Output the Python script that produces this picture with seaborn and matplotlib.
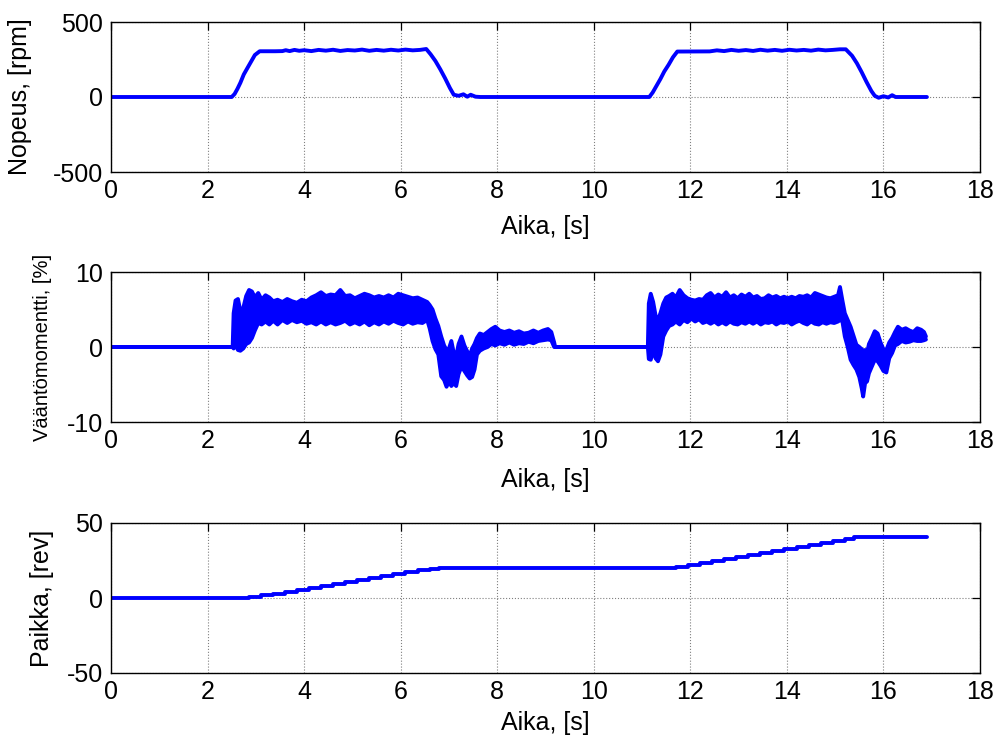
import numpy as np
import pandas as pd
import matplotlib
matplotlib.use("Agg")
import matplotlib.pyplot as plt
import seaborn as sns

# ---------------- data ----------------
speed_t = [0.0, 2.50, 2.56, 2.62, 2.68, 2.75, 2.82, 2.90, 2.98, 3.08,
           3.40, 3.55, 3.62, 3.70, 3.80, 3.90, 4.00, 4.15, 4.30, 4.45, 4.60,
           4.75, 4.90, 5.05, 5.20, 5.35, 5.50, 5.65, 5.80, 5.95, 6.10, 6.25,
           6.40, 6.53,
           6.62, 6.72, 6.82, 6.92, 7.02, 7.10, 7.20, 7.30, 7.38, 7.45, 7.55, 7.65,
           11.15, 11.22, 11.30, 11.38, 11.46, 11.55, 11.64, 11.73,
           12.40, 12.55, 12.70, 12.85, 13.00, 13.15, 13.30, 13.45, 13.60, 13.75,
           13.90, 14.05, 14.20, 14.35, 14.50, 14.65, 14.80, 14.95, 15.10, 15.22,
           15.35, 15.45, 15.55, 15.65, 15.75, 15.82, 15.90, 16.00, 16.10, 16.18,
           16.25, 16.90]
speed_v = [0, 0, 20, 55, 95, 150, 190, 235, 280, 305,
           305, 306, 312, 306, 314, 308, 312, 306, 314, 309, 315,
           307, 313, 310, 316, 308, 314, 309, 315, 310, 316, 311,
           314, 320,
           285, 240, 185, 125, 60, 15, 8, 18, 2, 15, 2, 0,
           0, 30, 75, 120, 170, 215, 265, 303,
           304, 311, 306, 314, 308, 313, 307, 315, 309, 314,
           308, 315, 310, 314, 309, 316, 311, 314, 318, 318,
           275, 225, 165, 100, 40, 8, -5, 5, -3, 12,
           0, 0]

torque_t = [0.00, 2.52, 2.54, 2.58, 2.63, 2.68, 2.74, 2.80, 2.86, 2.92, 2.98,
            3.05, 3.12, 3.20, 3.28, 3.36, 3.45, 3.55, 3.65, 3.75, 3.85, 3.95,
            4.05, 4.15, 4.25, 4.35, 4.45, 4.55, 4.65, 4.75, 4.85, 4.95, 5.05,
            5.15, 5.25, 5.35, 5.45, 5.55, 5.65, 5.75, 5.85, 5.95, 6.05, 6.15,
            6.25, 6.35, 6.45, 6.55, 6.60, 6.66, 6.72, 6.78, 6.84, 6.90, 6.95,
            7.00, 7.05, 7.10, 7.15, 7.20, 7.26, 7.32, 7.38, 7.43, 7.48, 7.53,
            7.58, 7.64, 7.72, 7.80, 7.88, 7.96, 8.05, 8.15, 8.25, 8.35, 8.45,
            8.55, 8.65, 8.75, 8.85, 8.95, 9.05, 9.12, 9.18, 9.20,
            11.12, 11.14, 11.18, 11.23, 11.28, 11.33, 11.38, 11.44, 11.50,
            11.56, 11.63, 11.70, 11.78, 11.86, 11.94, 12.02, 12.10, 12.18,
            12.26, 12.34, 12.42, 12.50, 12.58, 12.66, 12.74, 12.82, 12.90,
            12.98, 13.06, 13.14, 13.22, 13.30, 13.38, 13.46, 13.54, 13.62,
            13.70, 13.78, 13.86, 13.94, 14.02, 14.10, 14.18, 14.26, 14.34,
            14.42, 14.50, 14.58, 14.66, 14.74, 14.82, 14.90, 14.98, 15.06,
            15.10, 15.15, 15.20, 15.26, 15.32, 15.38, 15.44, 15.50, 15.55,
            15.58, 15.62, 15.66, 15.70, 15.76, 15.82, 15.88, 15.94, 16.00,
            16.06, 16.12, 16.18, 16.24, 16.30, 16.38, 16.46, 16.54, 16.62,
            16.70, 16.78, 16.84, 16.88]
torque_hi = [0, 0, 4.5, 6.2, 6.4, 4.8, 5.2, 6.8, 7.6, 7.4, 6.6,
             7.2, 6.3, 6.9, 6.6, 6.1, 6.3, 6.0, 6.4, 6.1, 5.9, 6.3,
             6.1, 6.6, 6.9, 7.3, 6.8, 7.0, 6.9, 7.6, 6.8, 6.9, 6.5,
             6.8, 7.1, 6.9, 6.6, 6.8, 6.6, 6.9, 6.6, 7.1, 6.9, 6.7,
             6.5, 6.6, 6.3, 6.0, 5.6, 5.0, 3.8, 2.8, 1.4, 0.2, -0.4,
             -0.2, 0.8, -0.8, -1.2, 0.4, 1.4, 0.2, -0.6, -1.2, -0.2, 0.4,
             1.2, 1.8, 1.6, 2.0, 2.4, 2.7, 2.2, 2.0, 2.2, 1.9, 2.1,
             1.8, 1.9, 2.2, 1.9, 2.2, 2.4, 2.0, 0.6, 0,
             0, 5.8, 7.1, 6.0, 4.2, 3.6, 4.5, 5.8, 6.6,
             6.8, 7.1, 6.6, 7.6, 6.9, 6.5, 6.3, 6.2, 6.4,
             6.3, 6.9, 7.2, 6.6, 7.0, 6.7, 7.3, 6.6, 6.9,
             6.5, 7.0, 6.7, 7.1, 6.6, 6.8, 6.4, 6.5, 6.9,
             6.6, 6.8, 6.5, 6.7, 6.5, 6.7, 6.5, 6.8, 6.7,
             6.9, 6.6, 7.2, 7.0, 6.8, 6.6, 6.5, 6.7, 6.9,
             8.0, 6.2, 4.5, 3.6, 2.7, 1.5, 0.3, 0.0, -0.3,
             -0.6, -0.4, -0.8, 0.4, 1.2, 2.1, 1.8, 0.6, -0.3,
             -0.4, 0.6, 1.2, 2.0, 2.7, 2.3, 2.5, 2.2, 2.0,
             2.5, 2.3, 2.0, 1.4]
torque_lo = [0, 0, -0.2, 0.3, -0.4, -0.5, -0.2, 0.4, 0.6, 1.2, 2.2,
             3.2, 3.0, 3.4, 3.0, 3.5, 3.0, 3.6, 3.2, 3.6, 3.3, 3.5,
             3.1, 3.3, 3.0, 3.4, 3.0, 3.3, 3.0, 3.2, 3.5, 3.0, 3.3,
             3.0, 3.4, 2.9, 3.3, 3.0, 3.4, 3.1, 3.5, 3.2, 3.0, 3.4,
             3.1, 3.3, 3.2, 3.6, 2.5, 0.8, -0.3, -1.0, -3.9, -4.4, -5.3,
             -4.6, -5.2, -4.8, -5.2, -3.6, -2.6, -3.2, -3.8, -4.2, -4.0, -3.0,
             -1.0, -0.5, -0.2, 0.0, 0.4, 0.2, 0.5, 0.3, 0.6, 0.3, 0.5,
             0.4, 0.7, 0.5, 0.8, 0.9, 1.0, 0.9, 0.0, 0,
             0, -1.6, -1.7, -0.4, -1.5, -1.9, -1.0, 1.4, 2.2,
             2.8, 3.0, 3.4, 3.0, 3.6, 3.3, 3.8, 3.4, 3.7,
             3.2, 3.4, 3.1, 3.4, 3.0, 3.3, 3.0, 3.4, 3.1,
             3.0, 3.3, 3.1, 3.4, 3.1, 3.4, 3.0, 3.3, 3.2,
             3.4, 3.0, 3.3, 3.2, 3.4, 3.0, 3.3, 3.5, 3.2,
             3.0, 3.4, 3.1, 3.0, 3.3, 3.1, 3.3, 3.2, 3.4,
             3.6, 3.4, 1.4, 0.0, -1.7, -2.4, -3.0, -4.0, -5.5,
             -6.6, -4.8, -4.6, -3.5, -2.6, -1.7, -1.9, -2.5, -3.2,
             -3.4, -1.5, -0.8, 0.2, 0.4, 0.8, 0.6, 0.7, 0.9,
             0.8, 0.8, 0.9, 1.0]

pos_t = [0.0, 2.85, 3.10, 3.35, 3.60, 3.85, 4.10, 4.35, 4.60, 4.85, 5.10,
         5.35, 5.60, 5.85, 6.10, 6.35, 6.60, 6.80, 11.45, 11.70, 11.95,
         12.20, 12.45, 12.70, 12.95, 13.20, 13.45, 13.70, 13.95, 14.20,
         14.45, 14.70, 14.95, 15.20, 15.40, 16.90]
pos_v = [0.0, 0.6, 1.7, 3.0, 4.3, 5.6, 6.9, 8.2, 9.5, 10.8, 12.1,
         13.4, 14.7, 16.0, 17.3, 18.6, 19.6, 20.2, 20.2, 21.0, 22.2,
         23.5, 24.8, 26.1, 27.4, 28.7, 30.0, 31.3, 32.6, 33.9,
         35.2, 36.5, 37.8, 39.1, 40.6, 40.6]

x_ticks = [0, 2, 4, 6, 8, 10, 12, 14, 16, 18]
ylabels = ["Nopeus, [rpm]", "Vääntömomentti, [%]", "Paikka, [rev]"]
ylims = [(-500, 500), (-10, 10), (-50, 50)]
yticks = [[-500, 0, 500], [-10, 0, 10], [-50, 0, 50]]
xlabel = "Aika, [s]"

# ---------------- style ----------------
sns.set_theme(style="white")
plt.rcParams['font.family'] = ['Liberation Sans', 'DejaVu Sans']

BLUE = "#0000ff"
LW = 2.8
FS = 18
YLFS = [18, 14.5, 18]
XLPAD = [9, 11, 5]

fig = plt.figure(figsize=(9.95, 7.44), dpi=100)
W, H = 995, 744
left_px, right_px = 111, 980
tops = [22, 272, 523]
bottoms = [172, 422, 673]
axes = []
for t, b in zip(tops, bottoms):
    ax = fig.add_axes([left_px / W, 1 - b / H, (right_px - left_px) / W, (b - t) / H])
    axes.append(ax)

df_speed = pd.DataFrame({"t": speed_t, "v": speed_v})
df_thi = pd.DataFrame({"t": torque_t, "v": torque_hi})
df_tlo = pd.DataFrame({"t": torque_t, "v": torque_lo})
df_pos = pd.DataFrame({"t": pos_t, "v": pos_v})

sns.lineplot(data=df_speed, x="t", y="v", ax=axes[0], color=BLUE, lw=LW,
             estimator=None, sort=False)

axes[1].fill_between(torque_t, torque_lo, torque_hi, color=BLUE, lw=0)
sns.lineplot(data=df_thi, x="t", y="v", ax=axes[1], color=BLUE, lw=LW,
             estimator=None, sort=False)
sns.lineplot(data=df_tlo, x="t", y="v", ax=axes[1], color=BLUE, lw=LW,
             estimator=None, sort=False)

sns.lineplot(data=df_pos, x="t", y="v", ax=axes[2], color=BLUE, lw=LW,
             estimator=None, sort=False, drawstyle="steps-post")

label_x = [-0.091, -0.068, -0.0656]
for i, ax in enumerate(axes):
    ax.set_xlim(0, 18)
    ax.set_ylim(*ylims[i])
    ax.set_xticks(x_ticks)
    ax.set_yticks(yticks[i])
    ax.set_xticklabels([str(v) for v in x_ticks])
    ax.set_yticklabels([str(v) for v in yticks[i]])
    ax.grid(True, color="#808080", linestyle=":", linewidth=0.8)
    ax.set_axisbelow(True)
    for s in ax.spines.values():
        s.set_visible(True)
        s.set_color("black")
        s.set_linewidth(1.0)
    ax.tick_params(axis="both", which="major", direction="in", length=6,
                   width=0.9, color="black", top=True, right=True,
                   labelsize=FS, labelcolor="black")
    ax.tick_params(axis="x", pad=5)
    ax.tick_params(axis="y", pad=6)
    ax.set_xlabel(xlabel, fontsize=FS, color="black", labelpad=XLPAD[i])
    ax.set_ylabel(ylabels[i], fontsize=YLFS[i], color="black")
    ax.yaxis.set_label_coords(label_x[i], 0.5)
    ax.set_facecolor("white")

fig.patch.set_facecolor("white")
fig.savefig("out.png", dpi=100, facecolor="white")
